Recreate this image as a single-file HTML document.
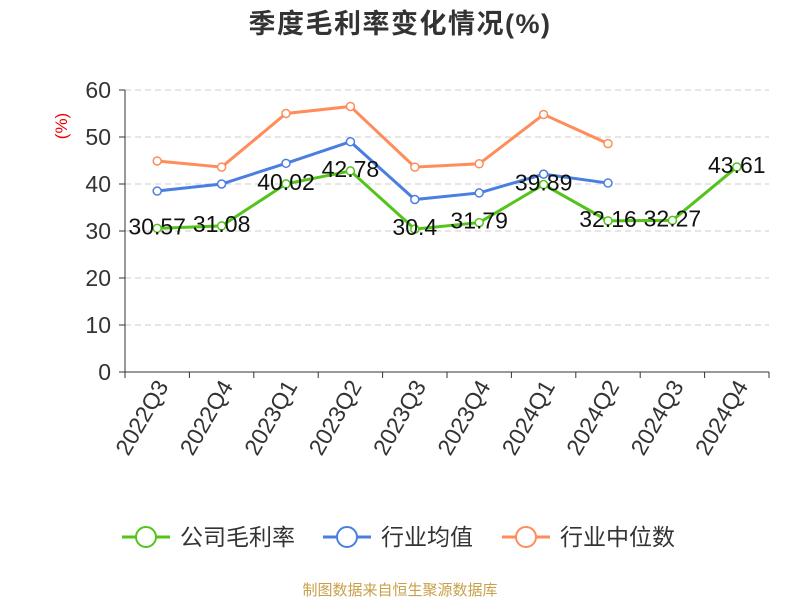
<!DOCTYPE html>
<html><head><meta charset="utf-8"><style>
body{margin:0;background:#fff;font-family:"Liberation Sans","Noto Sans CJK SC",sans-serif;}
svg text{font-family:"Liberation Sans","Noto Sans CJK SC",sans-serif;}
</style></head><body>
<svg id="c" width="800" height="600">
<text x="400" y="33" text-anchor="middle" font-size="27" font-weight="bold" letter-spacing="1.5" fill="#333">季度毛利率变化情况(%)</text>
<text transform="translate(67,126) rotate(-90)" text-anchor="middle" font-size="17" fill="#e00">(%)</text>
<g id="grid"></g><g id="axes"></g><g id="series"></g>
<g>
<g><line x1="122" y1="537" x2="170" y2="537" stroke="#52c41a" stroke-width="3"/><circle cx="146" cy="537" r="10" fill="#fff" stroke="#52c41a" stroke-width="2"/><text x="180" y="545" font-size="23" fill="#333">公司毛利率</text></g>
<g><line x1="323" y1="537" x2="371" y2="537" stroke="#4a7ee0" stroke-width="3"/><circle cx="347" cy="537" r="10" fill="#fff" stroke="#4a7ee0" stroke-width="2"/><text x="381" y="545" font-size="23" fill="#333">行业均值</text></g>
<g><line x1="502" y1="537" x2="550" y2="537" stroke="#ff8c5a" stroke-width="3"/><circle cx="526" cy="537" r="10" fill="#fff" stroke="#ff8c5a" stroke-width="2"/><text x="560" y="545" font-size="23" fill="#333">行业中位数</text></g>
</g>
<text x="400" y="595" text-anchor="middle" font-size="15" fill="#c9a04a">制图数据来自恒生聚源数据库</text>
</svg>
<script>
const categories=["2022Q3","2022Q4","2023Q1","2023Q2","2023Q3","2023Q4","2024Q1","2024Q2","2024Q3","2024Q4"];
const companyValues=[30.57,31.08,40.02,42.78,30.4,31.79,39.89,32.16,32.27,43.61];
const industryAvg=[38.5,40.0,44.4,49.0,36.7,38.1,42.1,40.2];
const industryMedian=[44.9,43.6,55.0,56.5,43.6,44.3,54.8,48.6];
const yTicks=[0,10,20,30,40,50,60];
const NS="http://www.w3.org/2000/svg";
const x0=125,x1=769,y0=372,y1=90;
const bw=(x1-x0)/categories.length;
const X=i=>x0+bw*(i+0.5);
const Y=v=>y0-(v/60)*(y0-y1);
function mk(t,a,p){const e=document.createElementNS(NS,t);for(const k in a)e.setAttribute(k,a[k]);p.appendChild(e);return e;}
const grid=document.getElementById('grid'),axes=document.getElementById('axes'),ser=document.getElementById('series');
yTicks.forEach(v=>{
 if(v>0){const g=mk('line',{x1:x0,x2:x1,y1:Y(v),y2:Y(v),stroke:'#ccc','stroke-dasharray':'6,4'},grid);
 
 }
 const tk=mk('line',{x1:x0-6,x2:x0,y1:Y(v),y2:Y(v),stroke:'#333'},axes);
 
 
 const t=mk('text',{x:x0-14,y:Y(v)+8,'text-anchor':'end','font-size':'23',fill:'#333'},axes);t.textContent=v;
 
 
});
const ya=mk('line',{x1:x0,x2:x0,y1:y1,y2:y0,stroke:'#333'},axes);


const xa=mk('line',{x1:x0,x2:x1,y1:y0,y2:y0,stroke:'#333'},axes);


for(let i=0;i<=categories.length;i++){const tk=mk('line',{x1:x0+bw*i,x2:x0+bw*i,y1:y0,y2:y0+6,stroke:'#333'},axes);
 
 }
categories.forEach((c,i)=>{const t=mk('text',{transform:`translate(${X(i)+12},${y0+14}) rotate(-60)`,'text-anchor':'end','font-size':'23',fill:'#333'},axes);t.textContent=c;
 
 });
function series(vals,color,name,labels){
 const g=mk('g',{},ser);
 
 
 const p=mk('polyline',{points:vals.map((v,i)=>X(i)+','+Y(v)).join(' '),fill:'none',stroke:color,'stroke-width':3},g);
 
 
 vals.forEach((v,i)=>{const c=mk('circle',{cx:X(i),cy:Y(v),r:4,fill:'#fff',stroke:color,'stroke-width':1.5},g);
  
  
  if(labels){const t=mk('text',{x:X(i),y:Y(v)+6,'text-anchor':'middle','font-size':'23',fill:'#111'},g);t.textContent=v;
   
   }
 });
}
series(industryMedian,'#ff8c5a','industry-median-series',false);
series(industryAvg,'#4a7ee0','industry-avg-series',false);
series(companyValues,'#52c41a','company-series',true);
</script>
</body></html>
